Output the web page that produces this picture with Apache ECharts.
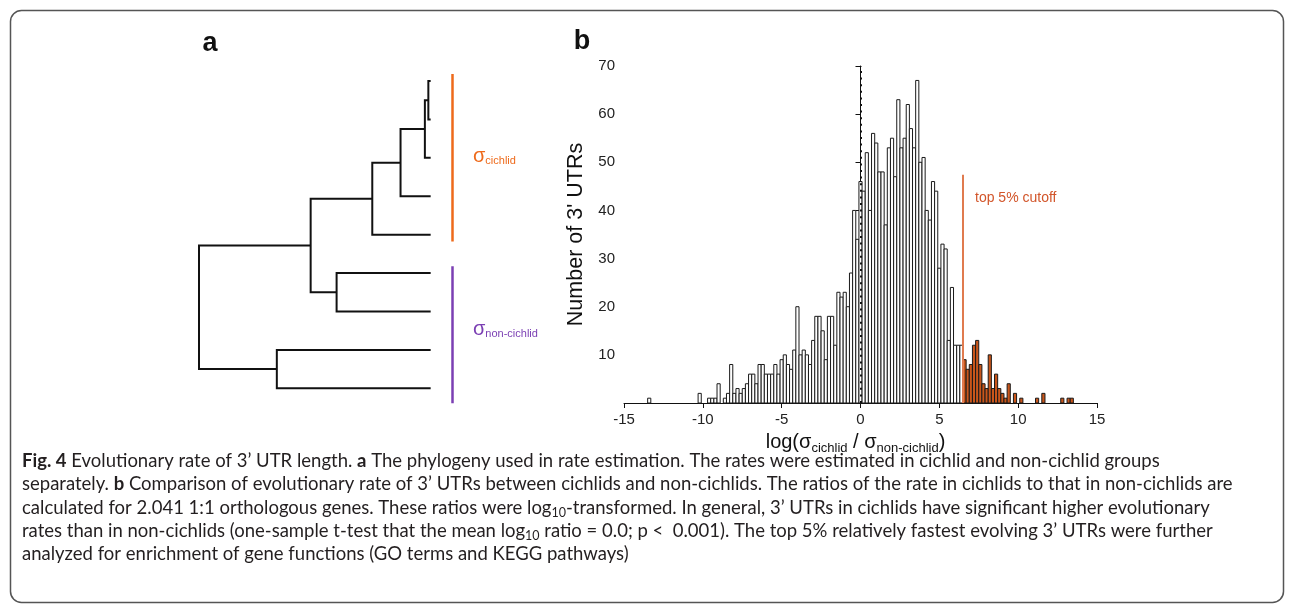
<!DOCTYPE html>
<html><head><meta charset="utf-8">
<script src="https://cdn.jsdelivr.net/npm/echarts/dist/echarts.min.js"></script>
<style>html,body{margin:0;padding:0;background:#fff}#c{width:1293px;height:605px}</style>
</head><body><div id="c"></div>
<script>
// ---------- Histogram data (panel b) ----------
const binWidth = 0.2;
const binCenters = [-13.4,-10.2,-9.6,-9.4,-9.2,-9.0,-8.6,-8.4,-8.2,-8.0,-7.8,-7.6,-7.4,-7.2,-7.0,-6.8,-6.6,-6.4,-6.2,-6.0,-5.8,-5.6,-5.4,-5.2,
  -5.0,-4.8,-4.6,-4.4,-4.2,-4.0,-3.8,-3.6,-3.4,-3.2,-3.0,-2.8,-2.6,-2.4,-2.2,-2.0,-1.8,-1.6,
  -1.4,-1.2,-1.0,-0.8,-0.6,-0.4,-0.2,0.0,0.2,0.4,0.6,0.8,1.0,1.2,1.4,1.6,1.8,2.0,
  2.2,2.4,2.6,2.8,3.0,3.2,3.4,3.6,3.8,4.0,4.2,4.4,4.6,4.8,5.0,5.2,5.4,5.6,5.8,6.0,6.2,6.4,
  6.6,6.8,7.0,7.2,7.4,7.6,7.8,8.0,8.2,8.4,8.6,8.8,9.0,9.2,9.4,9.8,10.2,11.2,11.6,12.8,13.2,13.4];
const binCounts = [1,2,1,1,1,4,1,2,8,2,3,2,3,4,6,6,4,8,8,6,6,6,8,6,
  9,10,8,7,11,20,10,11,10,8,13,18,18,15,9,18,18,12,
  23,22,23,20,27,40,34,46,44,52,40,56,54,48,48,37,53,55,
  47,63,53,55,62,57,53,67,50,51,40,38,46,44,28,33,32,13,24,12,12,12,
  9,7,8,12,13,8,4,3,10,3,6,3,2,1,4,2,1,1,2,1,1,1];
const cutoffValue = 6.5;          // top 5% cutoff on log ratio
const xTicks = [-15,-10,-5,0,5,10,15];
const yTicks = [10,20,30,40,50,60,70];

// ---------- Phylogeny data (panel a) ----------
const treeNodeIds = ['root','n1','n2','n3','n4','n5','n6','n7','L1','L2','L3','L4','L5','L6','L7','L8','L9'];
const treeParents = [null,'root','n1','n2','n3','n4','n1','root','n5','n5','n4','n3','n2','n6','n6','n7','n7'];
const treeDepths  = [0,0.482,0.748,0.870,0.975,0.990,0.594,0.336,1,1,1,1,1,1,1,1,1];
const treeLeafOrder = ['L1','L2','L3','L4','L5','L6','L7','L8','L9'];
const groupNames = ['cichlid','non-cichlid'];
const groupLeaves = [['L1','L5'],['L6','L9']];

// ---------- build tree geometry ----------
const depth = {}, parent = {}, children = {};
treeNodeIds.forEach((id,i)=>{depth[id]=treeDepths[i]; parent[id]=treeParents[i]; children[id]=[];});
treeNodeIds.forEach(id=>{ if(parent[id]) children[parent[id]].push(id); });
const yPos = {};
treeLeafOrder.forEach((id,i)=>yPos[id]=i);
function calcY(id){
  if(yPos[id]!==undefined) return yPos[id];
  const ys = children[id].map(calcY);
  yPos[id] = (Math.min(...ys)+Math.max(...ys))/2;
  return yPos[id];
}
calcY('root');
const treeLines = [];
treeNodeIds.forEach(id=>{
  const ch = children[id];
  if(ch.length===2){
    const a = ch[0], b = ch[1];
    treeLines.push({coords:[[depth[a],yPos[a]],[depth[id],yPos[a]],[depth[id],yPos[b]],[depth[b],yPos[b]]]});
  }
});
const groupColors = ['#EE6A1B','#7B3FB3'];
const padBottom = [0.18,0.39];
const groupLines = groupLeaves.map((g,i)=>({
  coords:[[1.093, yPos[g[0]]-0.18],[1.093, yPos[g[1]]+padBottom[i]]],
  lineStyle:{color:groupColors[i]}
}));

const chart = echarts.init(document.getElementById('c'), null, {renderer:'canvas'});
const AX = 'Liberation Sans, Arial, sans-serif';
const CAP = 'Lato, sans-serif';
const CAPSIZE = 18.5;

const capRich = {
  b:{fontFamily:CAP,fontWeight:'bold',fontSize:CAPSIZE,fill:'#231f20'},
  sub:{fontFamily:CAP,fontSize:12.5,fill:'#231f20',padding:[10,0,0,0]}
};
const captionLines = [
  '{b|Fig. 4} Evolutionary rate of 3’ UTR length. {b|a} The phylogeny used in rate estimation. The rates were estimated in cichlid and non-cichlid groups',
  'separately. {b|b} Comparison of evolutionary rate of 3’ UTRs between cichlids and non-cichlids. The ratios of the rate in cichlids to that in non-cichlids are',
  'calculated for 2.041 1:1 orthologous genes. These ratios were log{sub|10}-transformed. In general, 3’ UTRs in cichlids have significant higher evolutionary',
  'rates than in non-cichlids (one-sample t-test that the mean log{sub|10} ratio = 0.0; p <  0.001). The top 5% relatively fastest evolving 3’ UTRs were further',
  'analyzed for enrichment of gene functions (GO terms and KEGG pathways)'
];

function groupLabel(i, y){
  return {type:'text', x:473, y:y, style:{text:'{g|σ}{s|'+groupNames[i]+'}', verticalAlign:'middle',
    rich:{g:{fontSize:20,fontFamily:AX,fill:groupColors[i]}, s:{fontSize:11,fontFamily:AX,fill:groupColors[i],padding:[10,0,0,0]}}}};
}

const graphics = [
  {type:'rect', shape:{x:10.5,y:10.5,width:1273,height:592,r:11}, style:{fill:'none',stroke:'#555',lineWidth:1.5}, z:0},
  {type:'text', x:210, y:44, style:{text:'a', font:'bold 27px '+AX, fill:'#111', align:'center', verticalAlign:'middle'}},
  {type:'text', x:582, y:42, style:{text:'b', font:'bold 27px '+AX, fill:'#111', align:'center', verticalAlign:'middle'}},
  groupLabel(0,156), groupLabel(1,329),
  {type:'text', x:975, y:198, style:{text:'top 5% cutoff', font:'14px '+AX, fill:'#D2552A', verticalAlign:'middle'}}
];
captionLines.forEach((t,i)=>{
  graphics.push({type:'text', x:22, y:461+i*23.3, style:{text:t, fontFamily:CAP, fontSize:CAPSIZE, fill:'#231f20', verticalAlign:'middle', rich:capRich}});
});

const option = {
  animation:false,
  backgroundColor:'#fff',
  grid:[
    {left:624, top:66, width:473, height:337},
    {left:187.4, top:42.6, width:289.6, height:384.1}
  ],
  xAxis:[
    {type:'value', gridIndex:0, min:-15, max:15, interval:5,
     axisLine:{show:true,onZero:false,lineStyle:{color:'#111',width:1}},
     axisTick:{show:true,length:5,lineStyle:{color:'#111'}},
     axisLabel:{fontSize:15,fontFamily:AX,color:'#222',margin:9,
       formatter:v=>xTicks.includes(v)?String(v):''},
     splitLine:{show:false},
     name:'{m|log(σ}{s|cichlid}{m| / σ}{s|non-cichlid}{m|)}', nameLocation:'middle', nameGap:27,
     nameTextStyle:{padding:[0,10,0,0], rich:{m:{fontSize:20,fontFamily:AX,color:'#111'}, s:{fontSize:13,fontFamily:AX,color:'#111',padding:[12,0,0,0]}}}
    },
    {type:'value', gridIndex:1, min:-0.05, max:1.2, show:false}
  ],
  yAxis:[
    {type:'value', gridIndex:0, min:0, max:70, interval:10,
     axisLine:{show:true,lineStyle:{color:'#111',width:1}},
     axisTick:{show:true,length:5,lineStyle:{color:'#111'}},
     axisLabel:{fontSize:15,fontFamily:AX,color:'#222',margin:9,
       formatter:v=>yTicks.includes(v)?String(v):''},
     splitLine:{show:false},
     name:'Number of 3\' UTRs', nameLocation:'middle', nameGap:37, nameRotate:90,
     nameTextStyle:{fontSize:21.5,fontFamily:AX,color:'#111'}
    },
    {type:'value', gridIndex:1, min:-1, max:9, inverse:true, show:false}
  ],
  series:[
    {type:'custom', xAxisIndex:0, yAxisIndex:0,
     data: binCenters.map((c,i)=>[c, binCounts[i]]),
     renderItem:(params, api)=>{
       const c = api.value(0), n = api.value(1);
       const p0 = api.coord([c-binWidth/2, n]);
       const p1 = api.coord([c+binWidth/2, 0]);
       return {type:'rect', shape:{x:p0[0], y:p0[1], width:p1[0]-p0[0], height:p1[1]-p0[1]},
         style:{fill: c>cutoffValue ? '#C9561B' : '#fff', stroke:'#1a1a1a', lineWidth:1}};
     },
     markLine:{symbol:'none', silent:true, label:{show:false},
       data:[
         {xAxis:0, lineStyle:{color:'#111', type:[2,4.6], width:2}},
         [{coord:[cutoffValue,47.4], lineStyle:{color:'#E07B4F', type:'solid', width:2}},{coord:[cutoffValue,0]}]
       ]}
    },
    {type:'lines', coordinateSystem:'cartesian2d', xAxisIndex:1, yAxisIndex:1, polyline:true,
     lineStyle:{color:'#111', width:2, opacity:1}, data:treeLines},
    {type:'lines', coordinateSystem:'cartesian2d', xAxisIndex:1, yAxisIndex:1,
     lineStyle:{width:2.5, opacity:1}, data:groupLines}
  ],
  graphic: graphics
};
chart.setOption(option);
</script>
</body></html>
